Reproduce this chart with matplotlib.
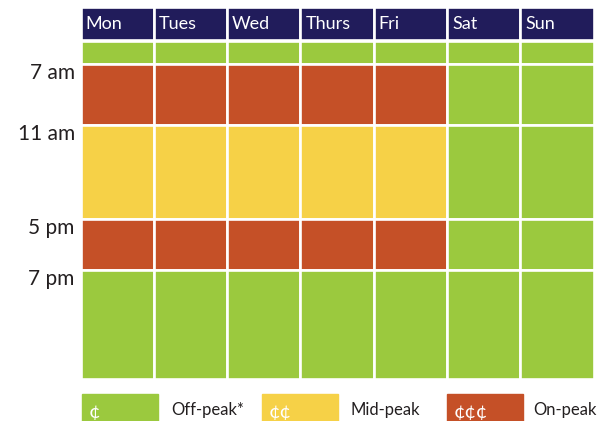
import matplotlib.pyplot as plt
from matplotlib.patches import Rectangle

plt.rcParams['font.family'] = ['Lato', 'DejaVu Sans']

# days across the top
days = ["Mon", "Tues", "Wed", "Thurs", "Fri", "Sat", "Sun"]

# time periods down the side (drawn heights, not to scale in hours)
period_labels = ["", "7 am", "11 am", "5 pm", "7 pm"]
period_heights = [23, 61, 94, 51, 109]

# price level of each period
weekday_rates = ["off", "on", "mid", "on", "off"]
weekend_rates = ["off", "off", "off", "off", "off"]
weekend_days = ["Sat", "Sun"]

colors = {"off": "#9bc93e", "mid": "#f6d147", "on": "#c55027"}
navy = "#211c5b"

legend_keys = ["off", "mid", "on"]
legend_symbols = ["¢", "¢¢", "¢¢¢"]
legend_names = ["Off-peak*", "Mid-peak", "On-peak"]

fig = plt.figure(figsize=(6.07, 4.21), dpi=100)
W, H = 607, 421
ax = fig.add_axes([80.5 / W, 1 - 378.5 / H, 513 / W, 372 / H])

header_h = 33
gap = 1
ax.set_xlim(0, len(days))
ax.set_ylim(header_h + gap + sum(period_heights), 0)
ax.axis("off")

# header row
for i, d in enumerate(days):
    ax.bar(i, header_h, bottom=0, width=1, align="edge",
           color=navy, edgecolor="white", linewidth=1.9)
    ax.text(i + 0.07, header_h / 2 + 1, d, color="white", fontsize=13,
            ha="left", va="center")

# schedule grid
for i, d in enumerate(days):
    rates = weekend_rates if d in weekend_days else weekday_rates
    y = header_h + gap
    for h, r in zip(period_heights, rates):
        ax.bar(i, h, bottom=y, width=1, align="edge",
               color=colors[r], edgecolor="white", linewidth=1.9)
        y += h

# time labels on the left
y = header_h + gap
for lab, h in zip(period_labels, period_heights):
    if lab:
        ax.text(-0.011, y + 9.5, lab, fontsize=15, ha="right", va="center",
                color="#231f20", transform=ax.get_yaxis_transform())
    y += h

# legend along the bottom
lax = fig.add_axes([0, 0, 1, 1], zorder=-1)
lax.set_xlim(0, W)
lax.set_ylim(H, 0)
lax.axis("off")
box_x = [82, 262, 447]
text_x = [171, 350, 533]
for bx, tx, k, s, n in zip(box_x, text_x, legend_keys, legend_symbols, legend_names):
    lax.add_patch(Rectangle((bx, 394), 76, 30, color=colors[k]))
    lax.text(bx + 7, 412, s, color="white", fontsize=14, ha="left", va="center")
    lax.text(tx, 410, n, color="#231f20", fontsize=12, ha="left", va="center")

fig.savefig("out.png", dpi=100)
